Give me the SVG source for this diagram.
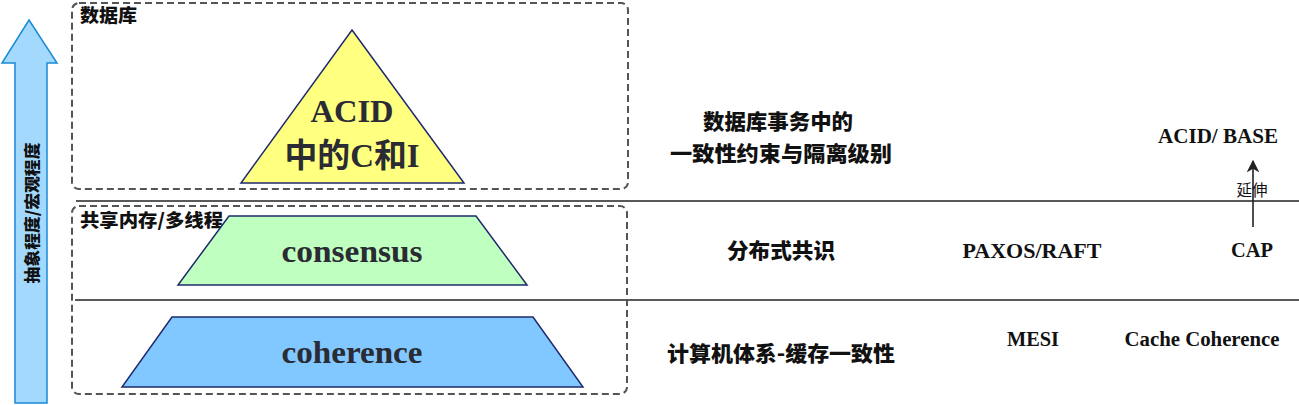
<svg xmlns="http://www.w3.org/2000/svg" width="1299" height="405" viewBox="0 0 1299 405">
<defs>
<style>
.frame{fill:none;stroke:#555;stroke-width:2;stroke-dasharray:7 4}
.sep{stroke:#222;stroke-width:1.6}
.shape{stroke:#1f2a6b;stroke-width:1.5}
.cjk{font-family:"Noto Sans CJK SC",sans-serif;font-weight:900;fill:#111}
.lat{font-family:"Liberation Serif","Noto Sans CJK SC",serif;font-weight:bold;fill:#111}
.big{font-family:"Liberation Serif","Noto Sans CJK SC",serif;font-weight:bold;fill:#2a2b33}
</style>
<marker id="ah" viewBox="0 0 10 10" refX="9" refY="5" markerWidth="8" markerHeight="8" orient="auto">
<path d="M0,0 L10,5 L0,10 L3,5 Z" fill="#222"/>
</marker>
</defs>
<rect width="1299" height="405" fill="#fff"/>
<g id="axis-arrow">
<path d="M29,20 L57,63 L47,63 L47,403 L15,403 L15,63 L2,63 Z" fill="#a3d9fc" stroke="#1a8bd6" stroke-width="1.5"/>
<text class="cjk" x="0" y="0" transform="translate(31,213) rotate(-90)" text-anchor="middle" dominant-baseline="central" font-size="16" textLength="141" lengthAdjust="spacingAndGlyphs">抽象程度/宏观程度</text>
</g>
<g id="connectors">
<line class="sep" x1="76" y1="201" x2="1299" y2="201"/>
<line class="sep" x1="75" y1="300" x2="1299" y2="300"/>
<line x1="1253" y1="227" x2="1253" y2="161" stroke="#222" stroke-width="1.6" marker-end="url(#ah)"/>
</g>
<g id="db-frame">
<rect class="frame" x="72" y="3" width="556" height="186" rx="7"/>
<text class="cjk" x="80" y="22" font-size="18" textLength="57" lengthAdjust="spacingAndGlyphs">数据库</text>
</g>
<g id="mem-frame">
<rect class="frame" x="72" y="206" width="555" height="188" rx="7"/>
<text class="cjk" x="80" y="227" font-size="18" textLength="143" lengthAdjust="spacingAndGlyphs">共享内存/多线程</text>
</g>
<g id="acid">
<polygon class="shape" points="352,30 464,183 241,183" fill="#ffff80"/>
<text class="big" x="352" y="122" text-anchor="middle" font-size="32" textLength="83" lengthAdjust="spacingAndGlyphs">ACID</text>
<text class="big" x="352" y="167" text-anchor="middle" font-size="33" textLength="135" lengthAdjust="spacingAndGlyphs">中的C和I</text>
</g>
<g id="consensus">
<polygon class="shape" points="229,216 476,216 527,285 178,285" fill="#bfffbf"/>
<text class="big" x="352" y="262" text-anchor="middle" font-size="32" textLength="141" lengthAdjust="spacingAndGlyphs">consensus</text>
</g>
<g id="coherence">
<polygon class="shape" points="172,317 533,317 583,387 122,387" fill="#80c8ff"/>
<text class="big" x="352" y="363" text-anchor="middle" font-size="32" textLength="141" lengthAdjust="spacingAndGlyphs">coherence</text>
</g>
<g id="db-desc">
<text class="cjk" x="778" y="129" text-anchor="middle" font-size="21" textLength="150" lengthAdjust="spacingAndGlyphs">数据库事务中的</text>
<text class="cjk" x="781" y="161" text-anchor="middle" font-size="21" textLength="222" lengthAdjust="spacingAndGlyphs">一致性约束与隔离级别</text>
</g>
<g id="acid-base">
<text class="lat" x="1218" y="143" text-anchor="middle" font-size="20" textLength="120" lengthAdjust="spacingAndGlyphs">ACID/ BASE</text>
<text x="1252" y="196" text-anchor="middle" font-size="15.5" font-family="Noto Sans CJK SC,sans-serif" fill="#111">延伸</text>
</g>
<g id="dist-desc">
<text class="cjk" x="781" y="258" text-anchor="middle" font-size="21" textLength="108" lengthAdjust="spacingAndGlyphs">分布式共识</text>
</g>
<g id="paxos">
<text class="lat" x="1032" y="258" text-anchor="middle" font-size="20" textLength="139" lengthAdjust="spacingAndGlyphs">PAXOS/RAFT</text>
</g>
<g id="cap">
<text class="lat" x="1252" y="257" text-anchor="middle" font-size="20" textLength="42" lengthAdjust="spacingAndGlyphs">CAP</text>
</g>
<g id="cache-desc">
<text class="cjk" x="781" y="361" text-anchor="middle" font-size="21" textLength="228" lengthAdjust="spacingAndGlyphs">计算机体系-缓存一致性</text>
</g>
<g id="mesi">
<text class="lat" x="1033" y="346" text-anchor="middle" font-size="20" textLength="52" lengthAdjust="spacingAndGlyphs">MESI</text>
</g>
<g id="cache-coherence">
<text class="lat" x="1202" y="346" text-anchor="middle" font-size="20" textLength="155" lengthAdjust="spacingAndGlyphs">Cache Coherence</text>
</g>
</svg>
